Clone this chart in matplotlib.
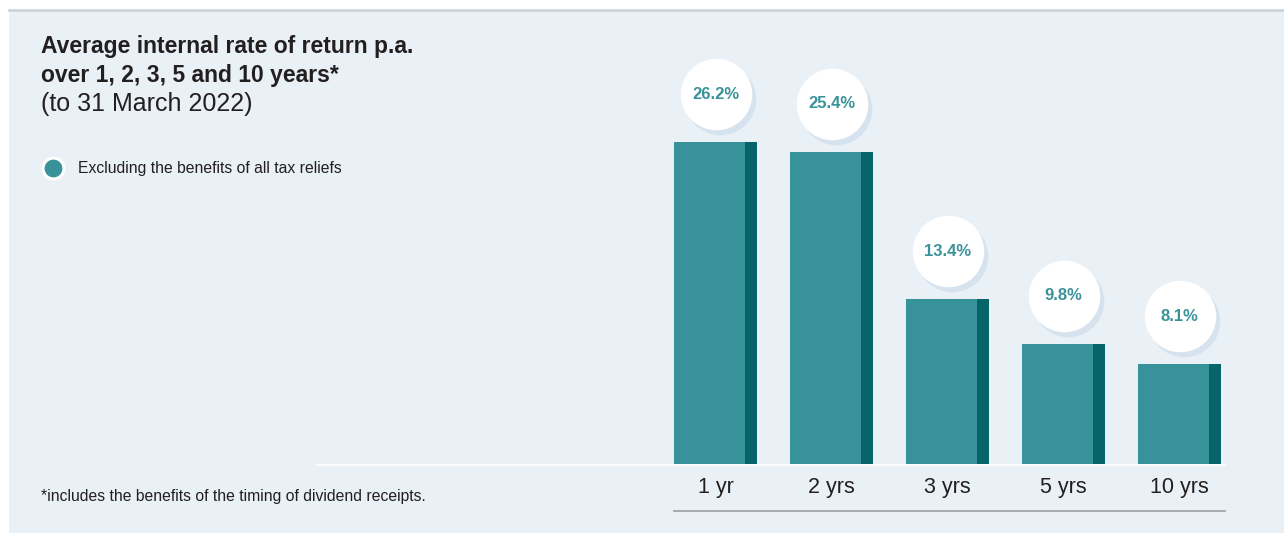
import matplotlib.pyplot as plt
from matplotlib.lines import Line2D
from matplotlib.patches import Rectangle
from matplotlib.transforms import offset_copy

plt.rcParams['font.family'] = ['Liberation Sans', 'DejaVu Sans']

# data
periods = ['1 yr', '2 yrs', '3 yrs', '5 yrs', '10 yrs']
irr = [26.2, 25.4, 13.4, 9.8, 8.1]
value_labels = ['26.2%', '25.4%', '13.4%', '9.8%', '8.1%']

W, H = 1284, 533
bg = '#E9F0F6'
teal = '#37929A'
teal_dark = '#07656A'
text_dark = '#231F20'

def fx(x):
    return x / W

def fy(y):
    return 1 - y / H

fig = plt.figure(figsize=(W / 100, H / 100), dpi=100, facecolor='white')

# panel background and top rule
fig.patches.append(Rectangle((fx(9), 0), 1 - fx(9), fy(10), transform=fig.transFigure,
                             facecolor=bg, edgecolor='none', zorder=-5))
fig.add_artist(Line2D([fx(9), 1], [fy(10), fy(10)], color='#CDD5DA', lw=2))

# bar axes: 116 px per category, 12.29 px per percent
px_per_pct = 12.29
ax = fig.add_axes([fx(657.5), fy(464), 580 / W, 454 / H])
ax.set_facecolor('none')
ax.set_zorder(2)
ax.set_xlim(-0.5, 4.5)
ax.set_ylim(0, 454 / px_per_pct)
for s in ax.spines.values():
    s.set_visible(False)

x = range(len(periods))
left = [i - 41.5 / 116 for i in x]
main_w = 71 / 116
dark_w = 12 / 116
ax.bar(left, irr, width=main_w, align='edge', color=teal, zorder=2)
ax.bar([l + main_w for l in left], irr, width=dark_w, align='edge', color=teal_dark, zorder=2)

# value bubbles with soft shadow
cy = [v + 48 / px_per_pct for v in irr]
shadow = offset_copy(ax.transData, fig=fig, x=4, y=-5, units='dots')
ax.scatter(x, cy, s=2650, color='#D6E3EE', transform=shadow, zorder=3, linewidths=0, clip_on=False)
ax.scatter(x, cy, s=2650, color='white', zorder=4, linewidths=0, clip_on=False)
for i, (c, lab) in enumerate(zip(cy, value_labels)):
    ax.text(i, c, lab, ha='center', va='center', fontsize=12, fontweight='bold',
            color='#3A9399', zorder=5)

ax.set_xticks(list(x))
ax.set_xticklabels(periods, fontsize=15.5, color=text_dark)
ax.tick_params(axis='x', length=0, pad=9)
ax.set_yticks([])

# baseline and bottom rule
fig.add_artist(Line2D([fx(317), fx(1225)], [fy(464.5), fy(464.5)], color='white', lw=1.2, zorder=1))
fig.add_artist(Line2D([fx(674), fx(1225)], [fy(511), fy(511)], color='#9B9FA3', lw=1.2))

# titles
fig.text(fx(41), fy(53), 'Average internal rate of return p.a.', fontsize=16.5,
         fontweight='bold', color=text_dark, va='baseline')
fig.text(fx(41), fy(82), 'over 1, 2, 3, 5 and 10 years*', fontsize=16.5,
         fontweight='bold', color=text_dark, va='baseline')
fig.text(fx(41), fy(111), '(to 31 March 2022)', fontsize=18, color=text_dark, va='baseline')

# legend
fig.add_artist(Line2D([fx(53)], [fy(168)], marker='o', markersize=15, markerfacecolor=teal,
                      markeredgecolor='white', markeredgewidth=2.2, linestyle='none'))
fig.text(fx(78), fy(168), 'Excluding the benefits of all tax reliefs', fontsize=11.3,
         color=text_dark, va='center')

# footnote
fig.text(fx(41), fy(497), '*includes the benefits of the timing of dividend receipts.',
         fontsize=11.3, color=text_dark, va='center')

fig.savefig('out.png', dpi=100, facecolor='white')
